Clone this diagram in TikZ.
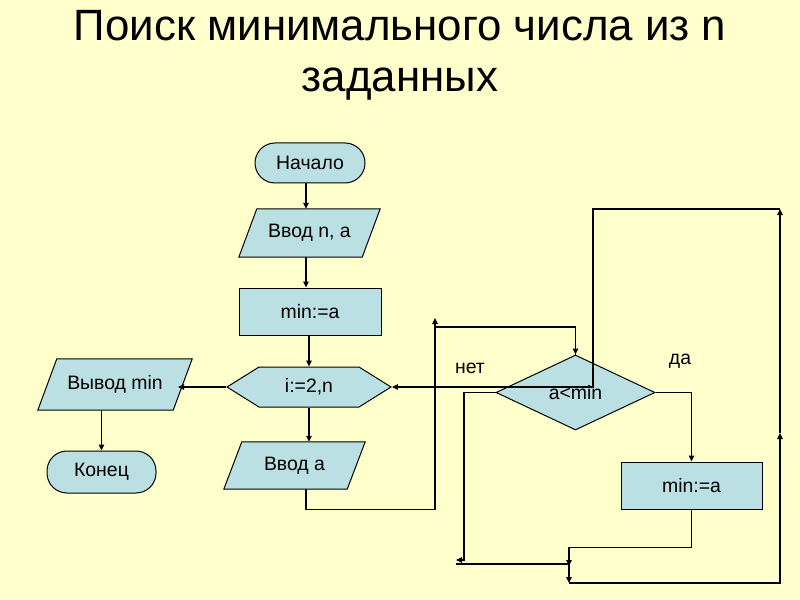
\documentclass[tikz,border=0pt]{standalone}
\usepackage{fontspec}
\setmainfont{Liberation Sans}
\usetikzlibrary{shapes.geometric,shapes.symbols,arrows.meta,backgrounds}
\definecolor{bg}{RGB}{255,255,204}
\definecolor{boxfill}{RGB}{187,224,227}
\tikzset{
  shapeline/.style={draw=black, line width=1bp, fill=boxfill},
  base/.style={shapeline, font=\fontsize{19.5}{21}\selectfont, inner sep=0pt},
  term/.style={base, rectangle, rounded corners=20bp, minimum width=110bp, minimum height=40bp},
  proc/.style={base, rectangle, minimum width=142bp, minimum height=47bp},
  io/.style={rectangle, draw=none, fill=none, font=\fontsize{19.5}{21}\selectfont, inner sep=0pt},
  loophex/.style={base, signal, signal to=west and east, signal pointer angle=64, minimum width=164bp, minimum height=40bp},
  decide/.style={base, diamond, minimum width=159bp, minimum height=75bp, aspect=2.1},
  conn/.style={line width=1.2bp, black},
  arr/.style={conn, -{Triangle[length=6bp,width=5.5bp]}},
  lbl/.style={font=\fontsize{19.5}{21}\selectfont, inner sep=0pt}
}
\newcommand\paral[2]{\draw[shapeline] ([xshift=#2]#1.north west) -- (#1.north east) -- ([xshift=-#2]#1.south east) -- (#1.south west) -- cycle;}
\begin{document}
\begin{tikzpicture}[x=1bp,y=-1bp]
\useasboundingbox (0,0) rectangle (800,600);
\begin{scope}[on background layer]
\fill[bg] (0,0) rectangle (800,600);
\end{scope}
\node[font=\fontsize{44}{51}\selectfont, align=center, anchor=north, inner sep=0pt] (title) at (400,10.5) {Поиск минимального числа из n\\заданных};
\node[term] (nach) at (310,163) {Начало};
\node[io, minimum width=141bp, minimum height=48bp] (vvodn) at (309.5,233) {Ввод n, a};
\node[proc] (min1) at (310,311.5) {min:=a};
\node[loophex] (hex) at (309,387) {i:=2,n};
\node[io, minimum width=154bp, minimum height=51bp] (vyvod) at (115,384.5) {Вывод min};
\node[term, minimum width=109bp, minimum height=42bp] (kon) at (101.5,472) {Конец};
\node[io, minimum width=141bp, minimum height=47bp] (vvoda) at (294.5,465.5) {Ввод a};
\node[decide] (dia) at (575.5,392.5) {a<min};
\node[proc, minimum width=141bp] (min2) at (691.5,485.5) {min:=a};
\node[lbl] (net) at (470,368) {нет};
\node[lbl] (da) at (680,361) {да};
\begin{scope}[on background layer]
\paral{vvodn}{18bp}
\paral{vyvod}{19bp}
\paral{vvoda}{18bp}
\end{scope}
\coordinate (vyvin) at (178,387);
\coordinate (loopA) at (435,327);
\coordinate (loopB) at (435,318);
\coordinate (mrg) at (569,564);
\coordinate (netend) at (456,560);
\coordinate (netstart) at (456,564);
\coordinate (bot) at (569,583);
\coordinate (rt) at (780,583);
\coordinate (rtmid) at (780,433);
\coordinate (rttop) at (780,209);
\coordinate (backx) at (593,209);
% connectors
\draw[arr] ([xshift=-4bp]nach.south) -- ([xshift=-4bp]nach.south |- vvodn.north);
\draw[arr] ([xshift=-3.5bp]vvodn.south) -- ([xshift=-3.5bp]vvodn.south |- min1.north);
\draw[arr] ([xshift=-1bp]min1.south) -- ([xshift=-1bp]min1.south |- hex.north);
\draw[arr] (hex.south) -- (hex.south |- vvoda.north);
\draw[arr] (hex.west) -- (vyvin);
\draw[arr] (vyvod.south -| kon.north) -- (kon.north);
\draw[conn] ([xshift=11.5bp]vvoda.south) -- ++(0,20) -| (loopA) -| (dia.north);
\draw[arr] (dia.north |- loopA) -- (dia.north);
\draw[arr] (loopA) -- (loopB);
\draw[arr] (dia.east) -| (min2.north);
\draw[arr] (min2.south) -- ++(0,38) -| ([yshift=-2bp]mrg);
\draw[arr] (dia.west) -| (464,560) -- (netend);
\draw[conn] (netstart) -- (mrg);
\draw[arr] (mrg) -- (bot);
\draw[arr] (bot) -- (rt) -- (rtmid);
\draw[arr] (rtmid) -- (rttop);
\draw[arr] (rttop) -- (backx) -- (backx |- hex.east) -- (hex.east);
\end{tikzpicture}
\end{document}
